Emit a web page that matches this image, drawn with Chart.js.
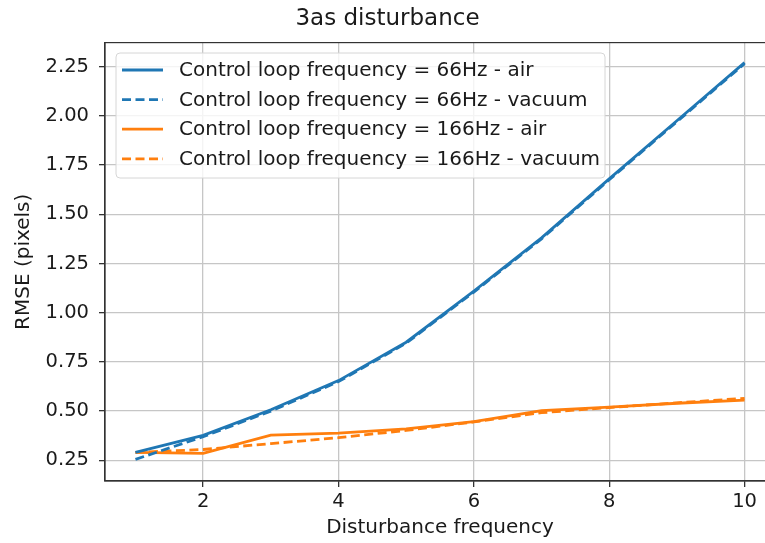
<!DOCTYPE html>
<html>
<head>
<meta charset="utf-8">
<script src="https://cdn.jsdelivr.net/npm/chart.js@4.4.1/dist/chart.umd.min.js"></script>
<style>
  html, body { margin: 0; padding: 0; background: #fff; overflow: hidden; }
  #wrap { width: 800px; height: 543px; position: relative; }
</style>
</head>
<body>
<div id="wrap"><canvas id="rmseChart"></canvas></div>
<script>
// values
const disturbanceFreq = [1, 2, 3, 4, 5, 6, 7, 8, 9, 10];
const rmse66Air = [0.29, 0.377, 0.507, 0.655, 0.85, 1.11, 1.38, 1.68, 1.975, 2.27];
const rmse66Vacuum = [0.255, 0.37, 0.50, 0.65, 0.845, 1.105, 1.375, 1.675, 1.97, 2.265];
const rmse166Air = [0.29, 0.285, 0.378, 0.388, 0.41, 0.447, 0.503, 0.52, 0.54, 0.556];
const rmse166Vacuum = [0.29, 0.305, 0.335, 0.365, 0.402, 0.445, 0.492, 0.518, 0.542, 0.565];
const xTicks = [2, 4, 6, 8, 10];
const yTicks = [0.25, 0.5, 0.75, 1.0, 1.25, 1.5, 1.75, 2.0, 2.25];

const BLUE = '#1f77b4';
const ORANGE = '#ff7f0e';
const DASH = [9, 4.5];

Chart.defaults.font.family = "'DejaVu Sans', sans-serif";
Chart.defaults.color = '#1a1a1a';

const toPoints = ys => disturbanceFreq.map((x, i) => ({ x, y: ys[i] }));

// frame round the plot area plus a matplotlib style legend inside it
const framePlugin = {
    id: 'frameAndLegend',
    afterDatasetsDraw(chart) {
        const { ctx, chartArea: a } = chart;
        ctx.save();
        ctx.strokeStyle = '#333';
        ctx.lineWidth = 1.2;
        ctx.strokeRect(a.left, a.top, a.right - a.left, a.bottom - a.top);

        const bx = 116, by = 53, bw = 489, bh = 125, r = 4;
        ctx.beginPath();
        ctx.roundRect(bx, by, bw, bh, r);
        ctx.fillStyle = 'rgba(255,255,255,0.8)';
        ctx.fill();
        ctx.strokeStyle = '#d6d6d6';
        ctx.lineWidth = 1;
        ctx.stroke();

        ctx.font = "20px 'DejaVu Sans'";
        ctx.textBaseline = 'middle';
        chart.data.datasets.forEach((ds, i) => {
            const y = 70 + i * 29.6;
            ctx.beginPath();
            ctx.setLineDash(ds.borderDash || []);
            ctx.strokeStyle = ds.borderColor;
            ctx.lineWidth = ds.borderWidth;
            ctx.moveTo(122, y);
            ctx.lineTo(163, y);
            ctx.stroke();
            ctx.setLineDash([]);
            ctx.fillStyle = '#1a1a1a';
            ctx.fillText(ds.label, 179, y + 1);
        });
        ctx.restore();
    }
};

new Chart(document.getElementById('rmseChart'), {
    type: 'line',
    data: {
        datasets: [
            {
                label: 'Control loop frequency = 66Hz - air',
                data: toPoints(rmse66Air),
                borderColor: BLUE,
                borderWidth: 2.8
            },
            {
                label: 'Control loop frequency = 66Hz - vacuum',
                data: toPoints(rmse66Vacuum),
                borderColor: BLUE,
                borderWidth: 2.8,
                borderDash: DASH
            },
            {
                label: 'Control loop frequency = 166Hz - air',
                data: toPoints(rmse166Air),
                borderColor: ORANGE,
                borderWidth: 2.8
            },
            {
                label: 'Control loop frequency = 166Hz - vacuum',
                data: toPoints(rmse166Vacuum),
                borderColor: ORANGE,
                borderWidth: 2.8,
                borderDash: DASH
            }
        ]
    },
    options: {
        responsive: true,
        maintainAspectRatio: false,
        animation: false,
        layout: {
            padding: { top: 0, bottom: 0, left: 0, right: 25 }
        },
        elements: {
            point: { radius: 0, hoverRadius: 0 },
            line: { tension: 0, fill: false }
        },
        plugins: {
            legend: { display: false },
            tooltip: { enabled: false },
            title: {
                display: true,
                text: '3as disturbance',
                color: '#1a1a1a',
                font: { size: 23, weight: 'normal' },
                padding: { top: 5, bottom: 10 }
            }
        },
        scales: {
            x: {
                type: 'linear',
                min: 0.55,
                max: 10.45,
                afterBuildTicks: s => { s.ticks = xTicks.map(v => ({ value: v })); },
                afterFit: s => { s.height = 62; },
                grid: { color: '#c6c6c6', lineWidth: 1.3, tickColor: '#333', tickLength: 6 },
                border: { color: '#333', width: 1.2 },
                ticks: { font: { size: 19.5 }, padding: 3, maxRotation: 0 },
                title: {
                    display: true,
                    text: 'Disturbance frequency',
                    font: { size: 20 },
                    padding: { top: 0, bottom: 3 }
                }
            },
            y: {
                min: 0.145,
                max: 2.372,
                afterBuildTicks: s => { s.ticks = yTicks.map(v => ({ value: v })); },
                afterFit: s => { s.width = 105; },
                grid: { color: '#c6c6c6', lineWidth: 1.3, tickColor: '#333', tickLength: 6 },
                border: { color: '#333', width: 1.2 },
                ticks: {
                    font: { size: 19.5 },
                    padding: 10,
                    callback: v => v.toFixed(2)
                },
                title: {
                    display: true,
                    text: 'RMSE (pixels)',
                    font: { size: 20 },
                    padding: { top: 12, bottom: 0 }
                }
            }
        }
    },
    plugins: [framePlugin]
});
</script>
</body>
</html>
